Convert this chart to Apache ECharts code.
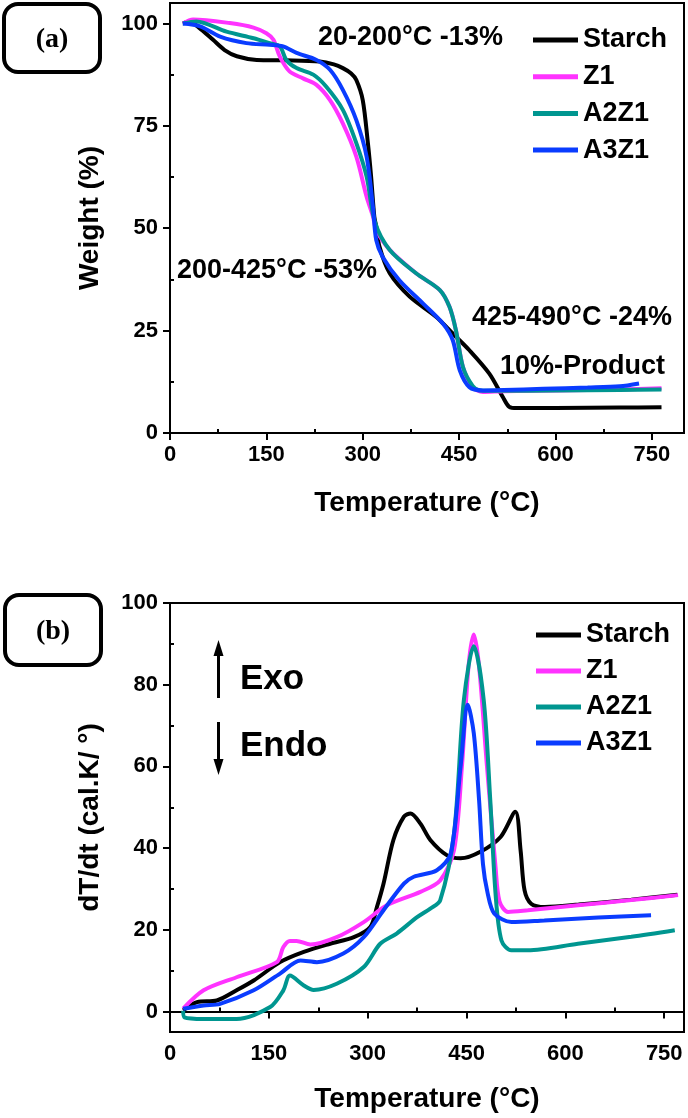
<!DOCTYPE html>
<html>
<head>
<meta charset="utf-8">
<script src="https://cdn.jsdelivr.net/npm/echarts@6/dist/echarts.min.js"></script>
<style>
  html, body { margin: 0; padding: 0; background: #fff; }
  #chart { width: 688px; height: 1118px; }
</style>
</head>
<body>
<div id="chart"></div>
<script>
// series names and colours
const names = ['Starch', 'Z1', 'A2Z1', 'A3Z1']
const colors = ['#000000', '#ff33ff', '#009690', '#0a3cff']

// tick values
const xMajorTicks = [0, 150, 300, 450, 600, 750]
const xMinorTicks = [75, 225, 375, 525, 675]
const yMajorTicksA = [0, 25, 50, 75, 100]
const yMinorTicksA = [12.5, 37.5, 62.5, 87.5]
const yMajorTicksB = [0, 20, 40, 60, 80, 100]
const yMinorTicksB = [10, 30, 50, 70, 90]

// (a) TGA weight (%) vs temperature
const aStarchT = [20, 30, 45, 67, 85, 104, 135, 180, 233, 255, 269, 282, 290, 300, 308, 313, 318, 321, 326, 342, 373, 414, 440, 466, 497, 518, 528, 540, 600, 700, 765]
const aStarchW = [100, 100.5, 99, 96, 93.5, 92, 91.1, 91, 90.7, 90, 89.1, 87.8, 86.2, 81.3, 70.8, 62.6, 52.8, 50.4, 45.5, 39, 33.3, 28.4, 24.3, 20.2, 14.5, 8.8, 6.4, 6.1, 6.1, 6.2, 6.3]
const aZ1T = [20, 36, 93, 130, 150, 161, 171, 186, 207, 228, 249, 269, 290, 306, 316, 321, 342, 383, 420, 435, 445, 456, 471, 487, 520, 600, 700, 765]
const aZ1W = [100, 101, 100.1, 99, 97.6, 96, 91.9, 88.3, 86.6, 85, 81.3, 75.6, 67.5, 57.7, 52.8, 49.6, 44.7, 39, 34.9, 30.8, 25.1, 16.1, 11.2, 10, 10.2, 10.4, 10.6, 10.9]
const aA2Z1T = [20, 41, 88, 130, 155, 171, 181, 197, 223, 243, 269, 290, 306, 319, 342, 383, 420, 435, 445, 456, 471, 482, 520, 600, 700, 765]
const aA2Z1W = [100, 100.5, 98, 96.4, 95.2, 94.4, 91.1, 89.1, 87.5, 84.6, 78.9, 70.8, 62.6, 51.5, 44.7, 39, 34.9, 30.8, 25.1, 16.1, 11.5, 10.4, 10.3, 10.4, 10.5, 10.6]
const aA3Z1T = [20, 47, 78, 119, 155, 176, 197, 228, 249, 269, 290, 306, 316, 321, 331, 357, 394, 425, 440, 451, 466, 487, 520, 581, 650, 700, 730]
const aA3Z1W = [100, 99.3, 96.8, 95.2, 94.8, 94.4, 92.8, 91.1, 88.7, 83.8, 76.4, 67.5, 55, 47.1, 43, 37.3, 31.6, 26.7, 22.7, 15.3, 11.2, 10.4, 10.5, 10.8, 11.1, 11.4, 12.1]

// (b) DTA dT/dt vs temperature
const bStarchT = [20, 41, 71, 101, 127, 167, 203, 243, 279, 304, 314, 324, 339, 355, 365, 380, 395, 420, 441, 471, 502, 524, 532, 538, 548, 569, 620, 700, 770]
const bStarchV = [0.3, 2.3, 2.7, 5.2, 7.6, 12.1, 14.6, 16.6, 18.2, 20.7, 25.6, 31.3, 42, 47.7, 48.5, 46, 42, 38.3, 37.5, 39.1, 42.8, 48.9, 39.5, 29.7, 26.4, 25.6, 26.2, 27.4, 28.6]
const bZ1T = [20, 51, 101, 162, 172, 182, 192, 213, 253, 294, 329, 380, 410, 431, 443, 453, 461, 469, 481, 494, 500, 513, 543, 619, 700, 771]
const bZ1V = [0.7, 5.2, 8.4, 12.1, 15.8, 17.3, 17.3, 16.4, 18.2, 21.9, 26, 29.3, 32.1, 39.5, 60, 84.5, 92.3, 84.5, 60, 35.4, 27, 24.4, 24.8, 26, 27.3, 28.5]
const bA2Z1T = [20, 22, 51, 101, 152, 172, 182, 203, 218, 253, 294, 319, 344, 375, 395, 410, 431, 446, 461, 476, 486, 494, 503, 518, 543, 619, 700, 766]
const bA2Z1V = [0.2, -1.4, -1.8, -1.8, 1.1, 5.2, 8.8, 6.4, 5.3, 6.8, 10.9, 16.6, 19.1, 23.1, 25.2, 27.2, 43.6, 76.3, 89.4, 76.3, 51.8, 28.9, 17.4, 15, 15, 16.6, 18.3, 19.9]
const bA3Z1T = [20, 51, 76, 127, 167, 198, 223, 263, 294, 324, 355, 370, 405, 426, 441, 452, 461, 469, 475, 482, 492, 518, 568, 650, 730]
const bA3Z1V = [0.7, 1.5, 1.9, 5.2, 9.3, 12.5, 12.1, 14.2, 18.2, 24.8, 31.3, 33, 34.6, 38.7, 60, 75.1, 68.1, 51.8, 36, 29, 24, 21.9, 22.3, 23, 23.6]

const font = 'Liberation Sans'
const pair = (xs, ys) => xs.map((x, i) => [x, ys[i]])

const chart = echarts.init(document.getElementById('chart'), null, { renderer: 'canvas' })

const majorX = (grid, max, name, gap) => ({
  gridIndex: grid, type: 'value', min: 0, max: max,
  axisLine: { show: true, lineStyle: { color: '#000', width: 2 } },
  axisTick: { show: true, customValues: xMajorTicks, length: 7, lineStyle: { color: '#000', width: 2 } },
  axisLabel: { customValues: xMajorTicks, color: '#000', fontFamily: font, fontWeight: 'bold', fontSize: 22, margin: 11 },
  splitLine: { show: false },
  name: name, nameLocation: 'middle', nameGap: gap,
  nameTextStyle: { color: '#000', fontFamily: font, fontWeight: 'bold', fontSize: 28 }
})
const minorX = (grid, max) => ({
  gridIndex: grid, type: 'value', min: 0, max: max,
  axisLine: { show: false },
  axisTick: { show: true, customValues: xMinorTicks, length: 4, lineStyle: { color: '#000', width: 2 } },
  axisLabel: { show: false },
  splitLine: { show: false }
})
const majorY = (grid, min, max, ticks, name, gap) => ({
  gridIndex: grid, type: 'value', min: min, max: max,
  axisLine: { show: true, lineStyle: { color: '#000', width: 2 } },
  axisTick: { show: true, customValues: ticks, length: 7, lineStyle: { color: '#000', width: 2 } },
  axisLabel: { customValues: ticks, color: '#000', fontFamily: font, fontWeight: 'bold', fontSize: 22, margin: 12 },
  splitLine: { show: false },
  name: name, nameLocation: 'middle', nameGap: gap,
  nameTextStyle: { color: '#000', fontFamily: font, fontWeight: 'bold', fontSize: 28 }
})
const minorY = (grid, min, max, ticks) => ({
  gridIndex: grid, type: 'value', min: min, max: max,
  axisLine: { show: false },
  axisTick: { show: true, customValues: ticks, length: 4, lineStyle: { color: '#000', width: 2 } },
  axisLabel: { show: false },
  splitLine: { show: false }
})

const line = (name, idx, grid, data) => ({
  name: name, type: 'line', xAxisIndex: grid * 2, yAxisIndex: grid * 2,
  data: data, showSymbol: false, smooth: 0.3,
  lineStyle: { color: colors[idx], width: 4 },
  itemStyle: { color: colors[idx] },
  z: 2 + idx
})

const legendCfg = (left, top, gap) => ({
  orient: 'vertical', left: left, top: top, data: names,
  icon: 'rect', itemWidth: 45, itemHeight: 5, itemGap: gap,
  textStyle: { color: '#000', fontFamily: font, fontWeight: 'bold', fontSize: 27, lineHeight: 28 }
})

const txt = (x, y, text, size, family) => ({
  type: 'text', x: x, y: y,
  style: { text: text, fill: '#000', font: 'bold ' + size + 'px "' + (family || font) + '"', textVerticalAlign: 'middle' }
})
const box = (x, y, w, h) => ({
  type: 'rect', shape: { x: x, y: y, width: w, height: h, r: 14 },
  style: { fill: 'none', stroke: '#000', lineWidth: 4 }
})

chart.setOption({
  animation: false,
  backgroundColor: '#fff',
  grid: [
    { left: 170, top: 3, width: 514, height: 430, show: true, borderColor: '#000', borderWidth: 2 },
    { left: 170, top: 603, width: 514, height: 429, show: true, borderColor: '#000', borderWidth: 2 }
  ],
  xAxis: [
    majorX(0, 800, 'Temperature (°C)', 56), minorX(0, 800),
    majorX(1, 780, 'Temperature (°C)', 53), minorX(1, 780)
  ],
  yAxis: [
    majorY(0, 0, 105, yMajorTicksA, 'Weight (%)', 66), minorY(0, 0, 105, yMinorTicksA),
    majorY(1, -5, 100, yMajorTicksB, 'dT/dt (cal.K/ °)', 66), minorY(1, -5, 100, yMinorTicksB)
  ],
  legend: [legendCfg(528, 21, 8.7), legendCfg(531, 616, 8)],
  series: [
    line('Starch', 0, 0, pair(aStarchT, aStarchW)),
    line('Z1', 1, 0, pair(aZ1T, aZ1W)),
    line('A3Z1', 3, 0, pair(aA3Z1T, aA3Z1W)),
    line('A2Z1', 2, 0, pair(aA2Z1T, aA2Z1W)),
    line('Starch', 0, 1, pair(bStarchT, bStarchV)),
    line('Z1', 1, 1, pair(bZ1T, bZ1V)),
    line('A2Z1', 2, 1, pair(bA2Z1T, bA2Z1V)),
    line('A3Z1', 3, 1, pair(bA3Z1T, bA3Z1V))
  ],
  graphic: [
    box(4, 4, 96, 68),
    { type: 'text', x: 52, y: 40, style: { text: '(a)', fill: '#000', font: 'bold 28px "Liberation Serif"', textAlign: 'center', textVerticalAlign: 'middle' } },
    box(5, 595, 96, 70),
    { type: 'text', x: 53, y: 632, style: { text: '(b)', fill: '#000', font: 'bold 28px "Liberation Serif"', textAlign: 'center', textVerticalAlign: 'middle' } },
    txt(318, 38, '20-200°C -13%', 27),
    txt(177, 271, '200-425°C -53%', 27),
    txt(472, 318, '425-490°C -24%', 27),
    txt(500, 367, '10%-Product', 27),
    // Exo / Endo arrows
    { type: 'line', shape: { x1: 218.5, y1: 698, x2: 218.5, y2: 652 }, style: { stroke: '#000', lineWidth: 3 } },
    { type: 'polygon', shape: { points: [[218.5, 640], [213.5, 656], [223.5, 656]] }, style: { fill: '#000' } },
    { type: 'line', shape: { x1: 218.5, y1: 722, x2: 218.5, y2: 762 }, style: { stroke: '#000', lineWidth: 3 } },
    { type: 'polygon', shape: { points: [[218.5, 775], [213.5, 759], [223.5, 759]] }, style: { fill: '#000' } },
    txt(240, 679, 'Exo', 35),
    txt(240, 746, 'Endo', 35)
  ]
})
</script>
</body>
</html>
